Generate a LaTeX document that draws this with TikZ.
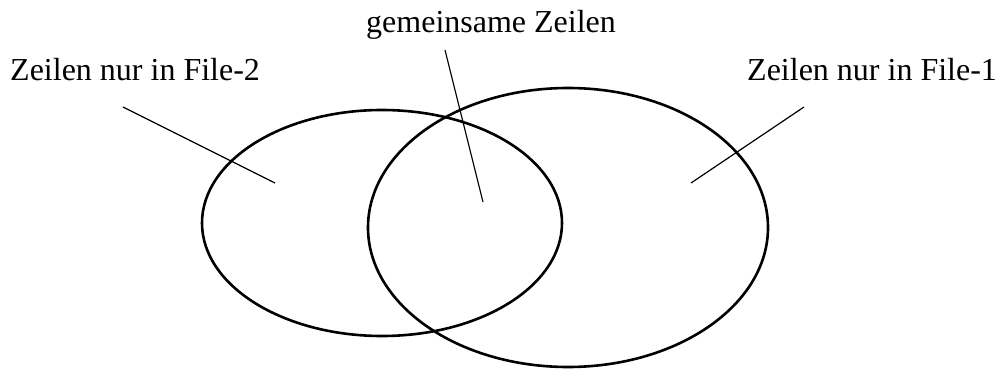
\documentclass[tikz,border=0pt]{standalone}
\usepackage{fontspec}
\setmainfont{Liberation Serif}
\usetikzlibrary{positioning}
\tikzset{
    setline/.style={line width=2.6pt, draw=black},
    leader/.style={line width=1.2pt, draw=black},
    lbl/.style={anchor=base west, inner sep=0pt, font=\fontsize{32}{38}\selectfont}
}
\begin{document}
\begin{tikzpicture}[x=1pt, y=-1pt]
    \useasboundingbox (0,0) rectangle (999,369);
    % the two sets
    \draw[setline] (382,223) ellipse [x radius=180pt, y radius=113pt];
    \draw[setline] (568,227.5) ellipse [x radius=200pt, y radius=139.5pt];
    % labels
    \node[lbl] (onlytwo) at (10,81) {Zeilen nur in File-2};
    \node[lbl] (common) at (366,33) {gemeinsame Zeilen};
    \node[lbl] (onlyone) at (747,81) {Zeilen nur in File-1};
    % leader lines
    \coordinate (twoA) at (123,107);
    \coordinate (twoB) at (275,183);
    \coordinate (comA) at (445,50);
    \coordinate (comB) at (483,202);
    \coordinate (oneA) at (804,107);
    \coordinate (oneB) at (691,183);
    \draw[leader] (twoA) -- (twoB);
    \draw[leader] (comA) -- (comB);
    \draw[leader] (oneA) -- (oneB);
\end{tikzpicture}
\end{document}
